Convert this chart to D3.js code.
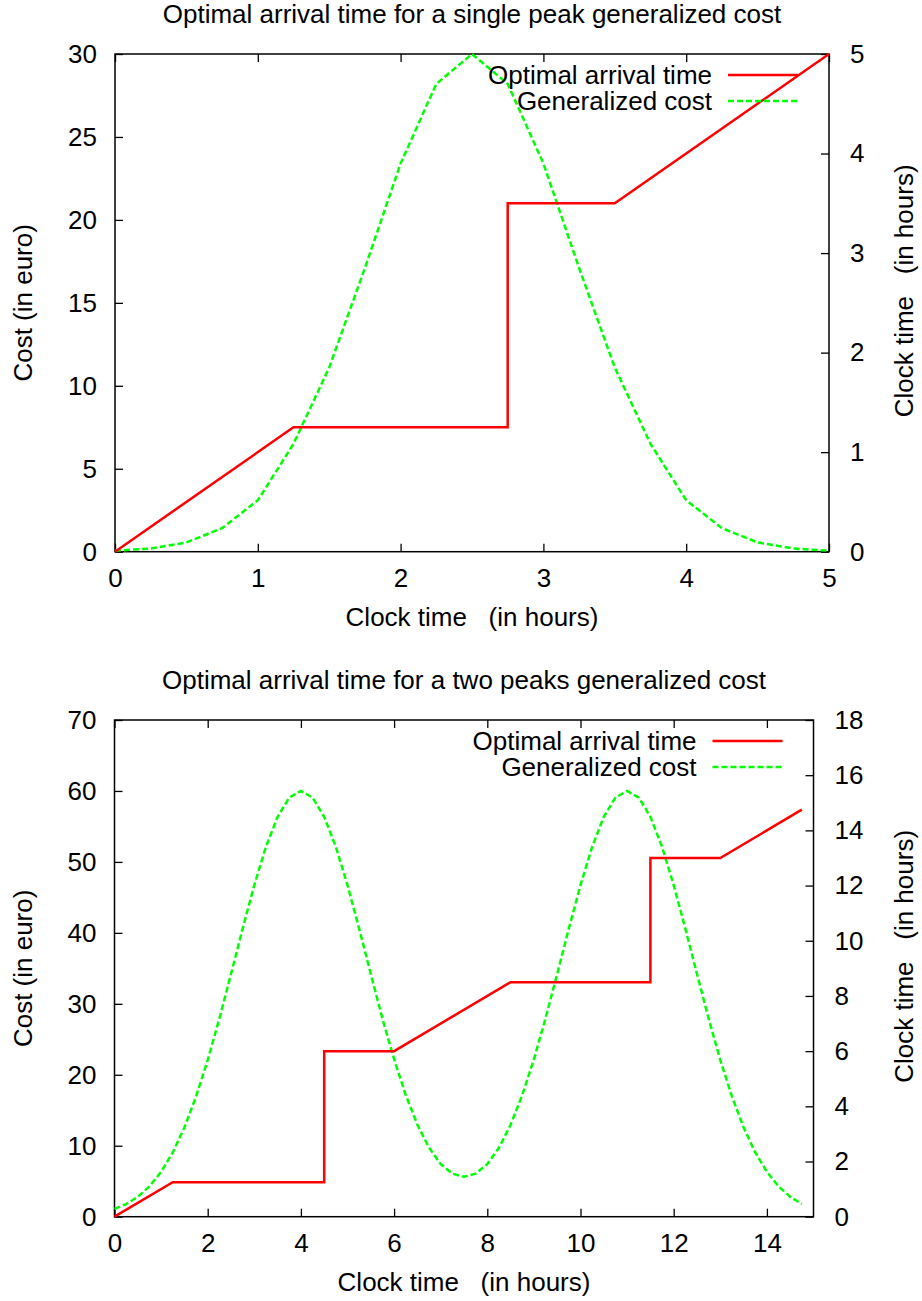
<!DOCTYPE html>
<html>
<head>
<meta charset="utf-8">
<script src="https://cdn.jsdelivr.net/npm/d3@7/dist/d3.min.js"></script>
<style>
  html, body { margin: 0; padding: 0; background: #fff; }
  svg { display: block; font-family: "Liberation Sans", Arial, Helvetica, sans-serif; }
  svg text { white-space: pre; }
</style>
</head>
<body>
<svg id="chart" width="922" height="1301"></svg>
<script>
// ---- Single peak scenario ----
const singleHours = [0, 0.25, 0.5, 0.75, 1, 1.25, 1.5, 1.75, 2, 2.25, 2.5,
                     2.75, 3, 3.25, 3.5, 3.75, 4, 4.25, 4.5, 4.75, 5];
const singleCost = [0.06, 0.19, 0.56, 1.42, 3.1, 6.5, 11.1, 17.1, 23.4, 28.2, 30,
                    28.2, 23.4, 17.1, 11.1, 6.5, 3.1, 1.42, 0.56, 0.19, 0.06];
const singleArrivalClock = [0, 1.25, 2.75, 2.75, 3.5, 5];
const singleArrivalTime  = [0, 1.25, 1.25, 3.5, 3.5, 5];
const singleXTicks = [0, 1, 2, 3, 4, 5];
const singleCostTicks = [0, 5, 10, 15, 20, 25, 30];
const singleTimeTicks = [0, 1, 2, 3, 4, 5];

// ---- Two peaks scenario ----
const twoHours = [0, 0.25, 0.5, 0.75, 1, 1.25, 1.5, 1.75, 2, 2.25, 2.5, 2.75,
                  3, 3.25, 3.5, 3.75, 4, 4.25, 4.5, 4.75, 5, 5.25, 5.5, 5.75,
                  6, 6.25, 6.5, 6.75, 7, 7.25, 7.5, 7.75, 8, 8.25, 8.5, 8.75,
                  9, 9.25, 9.5, 9.75, 10, 10.25, 10.5, 10.75, 11, 11.25, 11.5, 11.75,
                  12, 12.25, 12.5, 12.75, 13, 13.25, 13.5, 13.75, 14, 14.25, 14.5, 14.75];
const twoCost = [1.10, 1.78, 2.81, 4.28, 6.32, 9.06, 12.58, 16.93, 22.07, 27.90, 34.19, 40.60,
                 46.73, 52.13, 56.36, 59.07, 60.00, 59.07, 56.36, 52.13, 46.73, 40.60, 34.19, 27.90,
                 22.19, 17.14, 12.96, 9.72, 7.42, 6.06, 5.62, 6.06, 7.42, 9.72, 12.96, 17.14,
                 22.19, 27.96, 34.22, 40.61, 46.73, 52.13, 56.36, 59.07, 60.00, 59.07, 56.36, 52.13,
                 46.73, 40.60, 34.19, 27.90, 22.07, 16.93, 12.58, 9.06, 6.32, 4.28, 2.81, 1.78];
const twoArrivalClock = [0, 1.25, 4.5, 4.5, 6, 8.5, 11.5, 11.5, 13, 14.75];
const twoArrivalTime  = [0, 1.25, 1.25, 6, 6, 8.5, 8.5, 13, 13, 14.75];
const twoXTicks = [0, 2, 4, 6, 8, 10, 12, 14];
const twoCostTicks = [0, 10, 20, 30, 40, 50, 60, 70];
const twoTimeTicks = [0, 2, 4, 6, 8, 10, 12, 14, 16, 18];

const legendLabels = ["Optimal arrival time", "Generalized cost"];
const xTitle = "Clock time   (in hours)";
const yTitle = "Cost (in euro)";
const y2Title = "Clock time   (in hours)";

const svg = d3.select("#chart");
const FONT = 26;
const TICK = 8;
const COST_DASH = "6,3";

function drawPanel(opt) {
  const { left, right, top, bottom } = opt.box;
  const g = svg.append("g");

  const x = d3.scaleLinear().domain(opt.xDomain).range([left, right]);
  const y = d3.scaleLinear().domain(opt.yDomain).range([bottom, top]);
  const y2 = d3.scaleLinear().domain(opt.y2Domain).range([bottom, top]);

  const styleAxis = sel => {
    sel.select(".domain").remove();
    sel.selectAll(".tick line").attr("stroke", "#000").attr("stroke-width", 1.3);
    sel.selectAll("text").attr("font-size", FONT).attr("fill", "#000")
       .attr("font-family", "Liberation Sans, Arial, sans-serif");
    sel.attr("font-size", null).attr("font-family", null);
  };

  g.append("g").attr("transform", `translate(0,${bottom})`)
    .call(d3.axisBottom(x).tickValues(opt.xTicks).tickSize(-TICK).tickPadding(17).tickFormat(d3.format("d")))
    .call(styleAxis);
  g.append("g").attr("transform", `translate(0,${top})`)
    .call(d3.axisTop(x).tickValues(opt.xTicks).tickSize(-TICK).tickFormat(""))
    .call(styleAxis);
  g.append("g").attr("transform", `translate(${left},0)`)
    .call(d3.axisLeft(y).tickValues(opt.yTicks).tickSize(-TICK).tickPadding(18).tickFormat(d3.format("d")))
    .call(styleAxis);
  g.append("g").attr("transform", `translate(${right},0)`)
    .call(d3.axisRight(y2).tickValues(opt.y2Ticks).tickSize(-TICK).tickPadding(21).tickFormat(d3.format("d")))
    .call(styleAxis);

  // frame
  g.append("rect")
    .attr("x", left).attr("y", top)
    .attr("width", right - left).attr("height", bottom - top)
    .attr("fill", "none").attr("stroke", "#000").attr("stroke-width", 1.5);

  // generalized cost (left axis)
  const costLine = d3.line().x((d, i) => x(opt.hours[i])).y(d => y(d));
  g.append("path")
    .datum(opt.cost)
    .attr("d", costLine)
    .attr("fill", "none")
    .attr("stroke", "#00ff00")
    .attr("stroke-width", 2.5)
    .attr("stroke-dasharray", COST_DASH);

  // optimal arrival time (right axis)
  const arrLine = d3.line().x((d, i) => x(opt.arrClock[i])).y(d => y2(d));
  g.append("path")
    .datum(opt.arrTime)
    .attr("d", arrLine)
    .attr("fill", "none")
    .attr("stroke", "#ff0000")
    .attr("stroke-width", 2.5);

  // legend
  const legendStyles = [
    { color: "#ff0000", dash: null },
    { color: "#00ff00", dash: COST_DASH }
  ];
  legendLabels.forEach((label, i) => {
    const ly = top + 21 + i * 26;
    g.append("text")
      .attr("x", right - 117).attr("y", ly + 9)
      .attr("text-anchor", "end")
      .attr("font-size", FONT)
      .text(label);
    g.append("line")
      .attr("x1", right - 101).attr("x2", right - 31)
      .attr("y1", ly).attr("y2", ly)
      .attr("stroke", legendStyles[i].color)
      .attr("stroke-width", 2.5)
      .attr("stroke-dasharray", legendStyles[i].dash);
  });

  // titles
  const cx = (left + right) / 2;
  const cy = (top + bottom) / 2;
  g.append("text")
    .attr("x", cx).attr("y", top - 31)
    .attr("text-anchor", "middle").attr("font-size", FONT)
    .text(opt.title);
  g.append("text")
    .attr("x", cx).attr("y", bottom + 74)
    .attr("text-anchor", "middle").attr("font-size", FONT)
    .text(xTitle);
  g.append("text")
    .attr("transform", `translate(32,${cy}) rotate(-90)`)
    .attr("text-anchor", "middle").attr("font-size", FONT)
    .text(yTitle);
  g.append("text")
    .attr("transform", `translate(913,${cy - 12}) rotate(-90)`)
    .attr("text-anchor", "middle").attr("font-size", FONT)
    .text(y2Title);
}

drawPanel({
  box: { left: 115, right: 829, top: 54, bottom: 551.7 },
  xDomain: [0, 5], yDomain: [0, 30], y2Domain: [0, 5],
  xTicks: singleXTicks, yTicks: singleCostTicks, y2Ticks: singleTimeTicks,
  hours: singleHours, cost: singleCost,
  arrClock: singleArrivalClock, arrTime: singleArrivalTime,
  title: "Optimal arrival time for a single peak generalized cost"
});

drawPanel({
  box: { left: 114.5, right: 813.5, top: 720, bottom: 1216.7 },
  xDomain: [0, 15], yDomain: [0, 70], y2Domain: [0, 18],
  xTicks: twoXTicks, yTicks: twoCostTicks, y2Ticks: twoTimeTicks,
  hours: twoHours, cost: twoCost,
  arrClock: twoArrivalClock, arrTime: twoArrivalTime,
  title: "Optimal arrival time for a two peaks generalized cost"
});
</script>
</body>
</html>
